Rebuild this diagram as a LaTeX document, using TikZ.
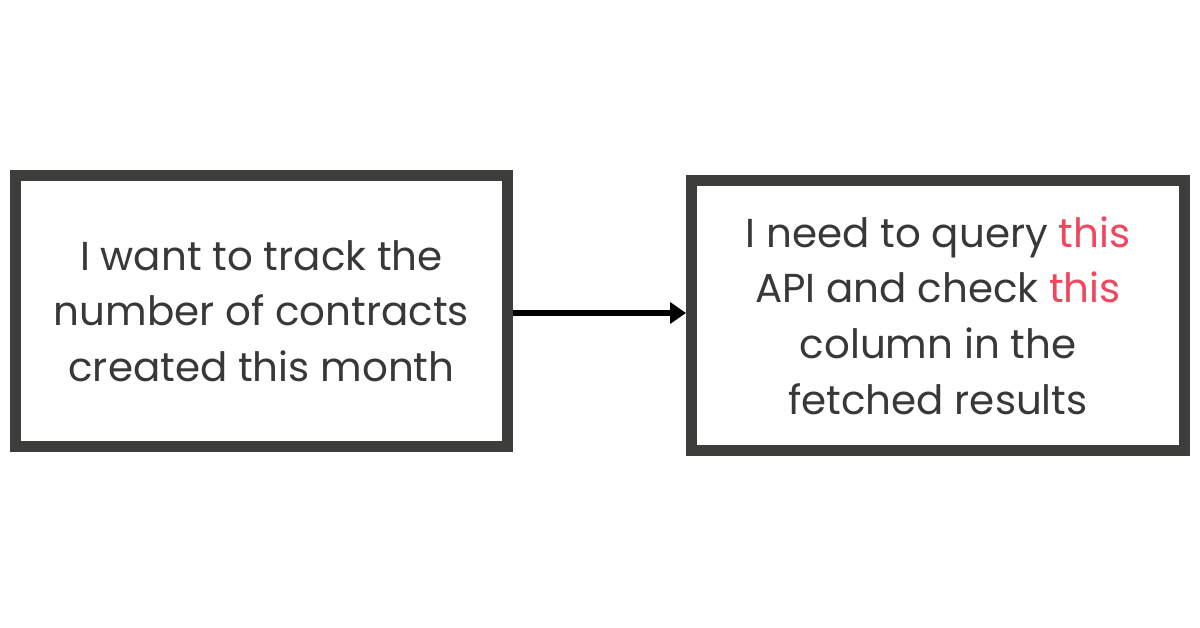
\documentclass[tikz,border=0pt]{standalone}
\usepackage{xcolor}
\usepackage{fontspec}
\setmainfont{Poppins}
\usepackage{tikz}
\usetikzlibrary{arrows.meta,positioning}
\definecolor{boxgray}{HTML}{3D3D3B}
\definecolor{txtgray}{HTML}{383838}
\definecolor{hired}{HTML}{F0475E}

\begin{document}
\begin{tikzpicture}[
  x=0.5pt, y=-0.5pt,
  every node/.style={font=\fontsize{20.2}{27.8}\selectfont, text=txtgray},
  box/.style={draw=boxgray, line width=5.5pt, fill=white,
              minimum width=246pt, minimum height=135.5pt, align=center},
  ar/.style ={-{Triangle[length=8pt,width=10.5pt]}, line width=2.6pt, draw=black},
  hl/.style ={text=hired}
]
  \useasboundingbox[fill=white] (0,0) rectangle (1200,627);
  \node[box] (goal) at (261.5,311) {I want to track the\\number of contracts\\created this month};
  \node[box, minimum width=246.5pt, minimum height=135pt] (query) at (938,315.5)
    {I need to query \textcolor{hired}{this}\\API and check \textcolor{hired}{this}\\column in the\\fetched results};
  \draw[ar] (goal.east) ++(0,2) coordinate (from) -- (from -| query.west);
\end{tikzpicture}
\end{document}
